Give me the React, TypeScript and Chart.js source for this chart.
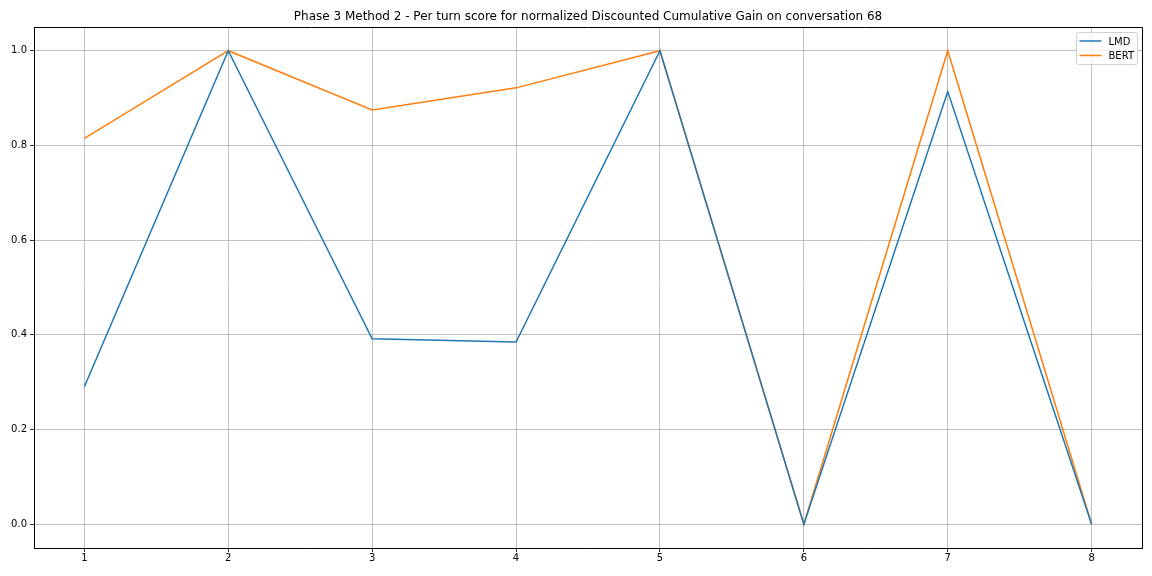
import React, { useEffect, useRef } from "react";
import { Chart, registerables } from "chart.js";

Chart.register(...registerables);

const turns = [1, 2, 3, 4, 5, 6, 7, 8];
const lmdScores = [0.2905, 1.0, 0.3916, 0.385, 1.0, 0.0, 0.9137, 0.0];
const bertScores = [0.8147, 1.0, 0.875, 0.9215, 1.0, 0.0, 1.0, 0.0];
const xTicks = [1, 2, 3, 4, 5, 6, 7, 8];
const yTicks = [0.0, 0.2, 0.4, 0.6, 0.8, 1.0];
const seriesNames = ["LMD", "BERT"];
const seriesColors = ["#1f77b4", "#ff7f0e"];
const titleText =
  "Phase 3 Method 2 - Per turn score for normalized Discounted Cumulative Gain on conversation 68";

const FONT = "'DejaVu Sans', sans-serif";

const overlayPlugin = {
  id: "overlay",
  afterDraw(chart: any) {
    const { ctx, chartArea } = chart;
    const { left, right, top, bottom } = chartArea;
    ctx.save();
    // spines
    ctx.strokeStyle = "#000";
    ctx.lineWidth = 1;
    ctx.beginPath();
    ctx.rect(Math.round(left) + 0.5, Math.round(top) + 0.5, Math.round(right - left), Math.round(bottom - top));
    ctx.stroke();
    // title
    ctx.fillStyle = "#000";
    ctx.font = `12px ${FONT}`;
    ctx.textAlign = "center";
    ctx.textBaseline = "middle";
    ctx.fillText(titleText, (left + right) / 2, 17);
    // legend
    const bx = Math.round(right) - 66 + 0.5;
    const by = Math.round(top) + 5 + 0.5;
    const bw = 61;
    const bh = 32;
    ctx.fillStyle = "rgba(255,255,255,0.8)";
    ctx.strokeStyle = "#d0d0d0";
    ctx.lineWidth = 1;
    ctx.beginPath();
    const r = 2;
    ctx.moveTo(bx + r, by);
    ctx.lineTo(bx + bw - r, by);
    ctx.quadraticCurveTo(bx + bw, by, bx + bw, by + r);
    ctx.lineTo(bx + bw, by + bh - r);
    ctx.quadraticCurveTo(bx + bw, by + bh, bx + bw - r, by + bh);
    ctx.lineTo(bx + r, by + bh);
    ctx.quadraticCurveTo(bx, by + bh, bx, by + bh - r);
    ctx.lineTo(bx, by + r);
    ctx.quadraticCurveTo(bx, by, bx + r, by);
    ctx.closePath();
    ctx.fill();
    ctx.stroke();
    ctx.font = `10px ${FONT}`;
    ctx.textAlign = "left";
    seriesNames.forEach((name, i) => {
      const yy = Math.round(by) + 8 + i * 14.5;
      ctx.strokeStyle = seriesColors[i];
      ctx.lineWidth = 1.5;
      ctx.beginPath();
      ctx.moveTo(bx + 3, yy);
      ctx.lineTo(bx + 25, yy);
      ctx.stroke();
      ctx.fillStyle = "#000";
      ctx.fillText(name, bx + 32, yy + 1);
    });
    ctx.restore();
  },
};

export default function App() {
  const canvasRef = useRef<HTMLCanvasElement | null>(null);

  useEffect(() => {
    document.body.style.margin = "0";
    const canvas = canvasRef.current;
    if (!canvas) return;
    const chart = new Chart(canvas, {
      type: "line",
      data: {
        datasets: [lmdScores, bertScores].map((vals, i) => ({
          label: seriesNames[i],
          data: turns.map((t, j) => ({ x: t, y: vals[j] })),
          borderColor: seriesColors[i],
          backgroundColor: seriesColors[i],
          borderWidth: 1.5,
          pointRadius: 0,
          tension: 0,
          fill: false,
        })),
      },
      options: {
        responsive: false,
        animation: false,
        devicePixelRatio: 1,
        layout: { padding: { top: 27, right: 10, bottom: 0, left: 0 } },
        plugins: {
          legend: { display: false },
          title: { display: false },
          tooltip: { enabled: false },
        },
        scales: {
          x: {
            type: "linear",
            min: 0.65,
            max: 8.35,
            afterBuildTicks: (scale: any) => {
              scale.ticks = xTicks.map((v) => ({ value: v }));
            },
            afterFit: (scale: any) => {
              scale.height = 28;
            },
            ticks: {
              color: "#000",
              font: { family: FONT, size: 10 },
              padding: 0,
              maxRotation: 0,
              callback: (v: any) => String(v),
            },
            grid: {
              color: "#b0b0b0",
              lineWidth: 0.8,
              drawTicks: true,
              tickLength: 4,
              tickColor: "#000",
            },
            border: { display: true, color: "#000", width: 1 },
          },
          y: {
            type: "linear",
            min: -0.05,
            max: 1.05,
            afterBuildTicks: (scale: any) => {
              scale.ticks = yTicks.map((v) => ({ value: v }));
            },
            afterFit: (scale: any) => {
              scale.width = 34;
            },
            ticks: {
              color: "#000",
              font: { family: FONT, size: 10 },
              padding: 3,
              callback: (v: any) => Number(v).toFixed(1),
            },
            grid: {
              color: "#b0b0b0",
              lineWidth: 0.8,
              drawTicks: true,
              tickLength: 4,
              tickColor: "#000",
            },
            border: { display: true, color: "#000", width: 1 },
          },
        },
      },
      plugins: [overlayPlugin],
    });
    return () => chart.destroy();
  }, []);

  return (
    <div style={{ position: "absolute", left: 0, top: 0, width: 1152, height: 576, background: "#fff" }}>
      <canvas ref={canvasRef} width={1152} height={576} style={{ width: 1152, height: 576 }} />
    </div>
  );
}
